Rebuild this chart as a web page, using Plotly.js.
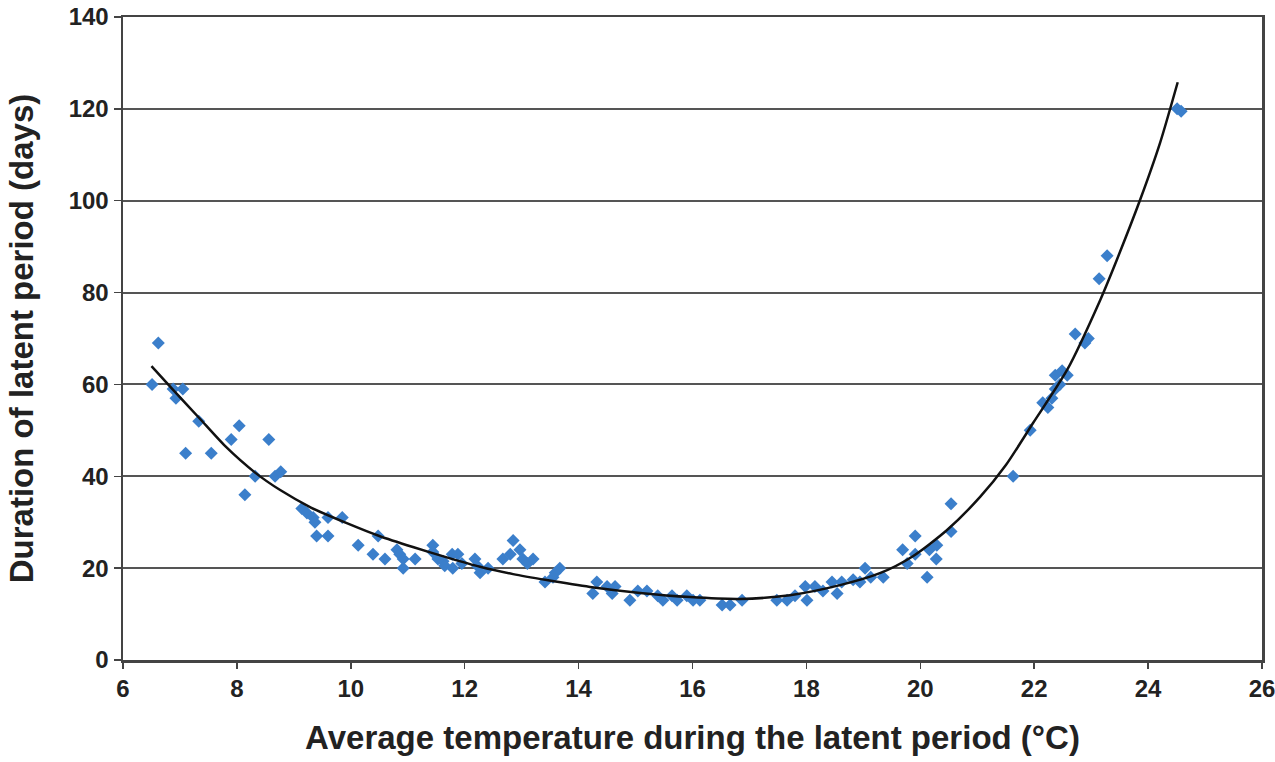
<!DOCTYPE html>
<html>
<head>
<meta charset="utf-8">
<script src="https://cdn.plot.ly/plotly-3.0.1.min.js"></script>
<style>html,body{margin:0;padding:0;background:#fff;}#chart{width:1275px;height:762px;}</style>
</head>
<body>
<div id="chart"></div>
<script>
// Observed points: temperature (°C) and latent period (days)
const tempObs = [6.51,6.62,6.88,6.93,7.05,7.33,7.10,7.55,7.90,8.04,8.56,8.14,8.32,8.67,8.77,
  9.14,9.23,9.34,9.37,9.40,9.60,9.60,9.85,10.13,10.39,10.48,10.60,10.81,10.86,10.92,10.92,11.13,
  11.44,11.44,11.53,11.62,11.65,11.78,11.79,11.88,11.95,12.18,12.22,12.27,12.41,12.67,12.80,12.85,12.97,13.02,13.10,13.20,
  13.41,13.55,13.59,13.67,14.32,14.25,14.50,14.64,14.59,14.90,15.04,15.20,15.39,15.48,15.64,15.73,15.90,16.01,16.13,
  16.52,16.66,16.87,17.48,17.66,17.80,17.98,18.01,18.15,18.29,18.45,18.54,18.62,18.82,18.94,19.03,19.13,19.35,
  19.69,19.77,19.91,19.91,20.12,20.16,20.29,20.28,20.54,20.54,
  21.63,21.93,22.15,22.24,22.31,22.37,22.37,22.49,22.45,22.58,22.72,22.89,22.95,23.14,23.28,24.51,24.58];
const daysObs = [60,69,59,57,59,52,45,45,48,51,48,36,40,40,41,
  33,32,31,30,27,27,31,31,25,23,27,22,24,23,20,22,22,
  25,23.5,22,21.5,20.5,23,20,23,21,22,20.5,19,20,22,23,26,24,22,21,22,
  17,18,19,20,17,14.5,16,16,14.5,13,15,15,14,13,14,13,14,13,13,
  12,12,13,13,13,14,16,13,16,15,17,14.5,17,17.5,17,20,18,18,
  24,21,27,23,18,24,25,22,34,28,
  40,50,56,55,57,59,62,63,60,62,71,69,70,83,88,120,119.5];

// Trend curve
const tempFit = [6.5,6.88,7.33,7.8,8.32,8.76,9.3,9.93,10.5,11.09,11.7,12.27,12.85,13.44,14.2,15.08,15.96,16.83,17.71,18.59,19.29,19.87,20.47,21.05,21.5,21.98,22.58,23.16,23.45,23.86,24.21,24.52];
const daysFit = [64,58.8,52.8,46.5,40.8,37,33.2,29.8,27,24.6,22.3,20.3,18.7,17.4,15.9,14.6,13.7,13.3,14.1,16.3,18.9,22.6,28.3,35.5,42.4,51.6,63.2,78.4,87.1,100.2,112.6,125.8];

const xTicks = [6,8,10,12,14,16,18,20,22,24,26];
const yTicks = [0,20,40,60,80,100,120,140];

const fontFam = '"Liberation Sans", Arial, Helvetica, sans-serif';

const traces = [
  {x: tempObs, y: daysObs, type: 'scatter', mode: 'markers',
   marker: {symbol: 'diamond', size: 10, color: '#3b7fcb'}, hoverinfo: 'x+y'},
  {x: tempFit, y: daysFit, type: 'scatter', mode: 'lines',
   line: {color: '#111', width: 2.5, shape: 'spline', smoothing: 0.7}}
];

const layout = {
  width: 1275, height: 762,
  margin: {l: 123, r: 13, t: 17, b: 102},
  paper_bgcolor: '#fff', plot_bgcolor: '#fff',
  showlegend: false,
  font: {family: fontFam, color: '#222'},
  xaxis: {
    range: [6, 26], tickvals: xTicks, ticktext: xTicks.map(String),
    showgrid: false, zeroline: false,
    showline: true, linecolor: '#444', linewidth: 2.5, mirror: true,
    ticks: 'outside', ticklen: 6, tickwidth: 1.5, tickcolor: '#444',
    ticklabeloverflow: 'allow',
    tickfont: {size: 24, family: fontFam, color: '#222', weight: 'bold'},
    title: {text: '<b>Average temperature during the latent period (°C)</b>',
            font: {size: 33, family: fontFam, color: '#222'}, standoff: 25}
  },
  yaxis: {
    range: [0, 140], tickvals: yTicks, ticktext: yTicks.map(String),
    showgrid: true, gridcolor: '#555', gridwidth: 2,
    zeroline: false,
    showline: true, linecolor: '#444', linewidth: 2.5, mirror: true,
    ticks: 'outside', ticklen: 7, tickwidth: 1.5, tickcolor: '#444',
    tickfont: {size: 24, family: fontFam, color: '#222', weight: 'bold'},
    title: {text: '<b>Duration of latent period (days)</b>',
            font: {size: 33, family: fontFam, color: '#222'}, standoff: 25}
  }
};

Plotly.newPlot('chart', traces, layout, {displayModeBar: false, staticPlot: true});
</script>
</body>
</html>
